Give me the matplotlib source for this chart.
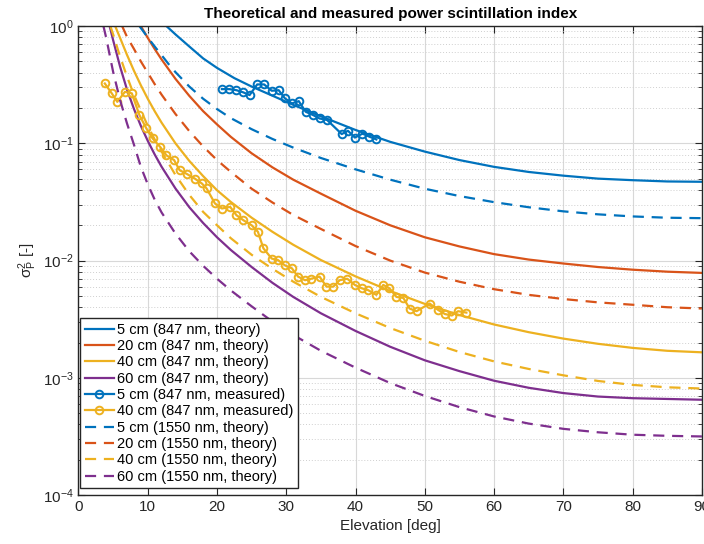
import numpy as np
import matplotlib.pyplot as plt
from matplotlib.ticker import LogLocator, MultipleLocator

plt.rcParams['font.family'] = ['Liberation Sans', 'DejaVu Sans']
plt.rcParams['mathtext.default'] = 'regular'

# theory curves (elevation [deg], sigma_P^2)
el_b847 = [12.7, 14, 16, 18, 20, 22.5, 25, 28, 31, 35, 40, 45, 50, 55, 60, 65, 70, 75, 80, 85, 90]
sp_b847 = [1.0, 0.85, 0.67, 0.53, 0.44, 0.36, 0.305, 0.255, 0.213, 0.170, 0.130, 0.103, 0.085, 0.072,
           0.063, 0.057, 0.053, 0.050, 0.0485, 0.0473, 0.047]

el_o847 = [9, 10, 11, 12, 14, 16, 18, 20, 22, 25, 28, 31, 35, 40, 45, 50, 55, 60, 65, 70, 75, 80, 85, 90]
sp_o847 = [1.0, 0.794, 0.638, 0.519, 0.355, 0.254, 0.188, 0.145, 0.1135, 0.0822, 0.0624, 0.049, 0.0372,
           0.0266, 0.020, 0.0158, 0.0132, 0.01135, 0.0102, 0.00944, 0.00881, 0.00836, 0.00804, 0.00785]

el_y847 = [5.3, 6, 7, 8, 9, 10, 11, 12, 14, 16, 18, 20, 22, 25, 28, 31, 35, 40, 45, 50, 55, 60, 65, 70, 75, 80, 85, 90]
sp_y847 = [1.0, 0.794, 0.569, 0.417, 0.313, 0.240, 0.188, 0.150, 0.100, 0.0708, 0.0525, 0.0398, 0.0316,
           0.0232, 0.0176, 0.01365, 0.0101, 0.00733, 0.0055, 0.00427, 0.00343, 0.00285, 0.00245, 0.00216,
           0.00195, 0.0018, 0.0017, 0.00165]

el_p847 = [4.5, 5, 6, 7, 8, 9, 10, 11, 12, 14, 16, 18, 20, 22, 25, 28, 31, 35, 40, 45, 50, 55, 60, 65, 70, 75, 80, 85, 90]
sp_p847 = [1.0, 0.759, 0.452, 0.288, 0.197, 0.141, 0.105, 0.0804, 0.0631, 0.0412, 0.0285, 0.0209, 0.0158,
           0.0123, 0.00881, 0.00646, 0.0049, 0.00355, 0.00251, 0.00184, 0.00141, 0.00114, 0.000944,
           0.000822, 0.000741, 0.000692, 0.00067, 0.00066, 0.00065]

el_b1550 = [8.8, 10, 11, 12, 13, 14, 16, 18, 20, 22, 25, 28, 31, 35, 40, 45, 50, 55, 60, 65, 70, 75, 80, 85, 90]
sp_b1550 = [1.0, 0.80, 0.67, 0.565, 0.475, 0.405, 0.305, 0.24, 0.196, 0.164, 0.132, 0.109, 0.092, 0.075,
            0.060, 0.049, 0.041, 0.0355, 0.0315, 0.0285, 0.0263, 0.0248, 0.0238, 0.0232, 0.023]

el_o1550 = [6.3, 7, 8, 9, 10, 11, 12, 14, 16, 18, 20, 22, 25, 28, 31, 35, 40, 45, 50, 55, 60, 65, 70, 75, 80, 85, 90]
sp_o1550 = [1.0, 0.81, 0.64, 0.50, 0.40, 0.32, 0.26, 0.178, 0.127, 0.094, 0.072, 0.057, 0.041, 0.0313,
            0.0245, 0.0186, 0.0133, 0.0100, 0.0079, 0.0066, 0.0057, 0.0051, 0.0047, 0.0044, 0.0042, 0.0040, 0.0039]

el_y1550 = [4.6, 5, 6, 7, 8, 9, 10, 11, 12, 14, 16, 18, 20, 22, 25, 28, 31, 35, 40, 45, 50, 55, 60, 65, 70, 75, 80, 85, 90]
sp_y1550 = [1.0, 0.851, 0.550, 0.372, 0.260, 0.191, 0.141, 0.108, 0.0851, 0.0537, 0.0363, 0.0260, 0.0200,
            0.0155, 0.0112, 0.00851, 0.00661, 0.0049, 0.00355, 0.00266, 0.00207, 0.00166, 0.00138,
            0.00119, 0.00105, 0.00094, 0.00087, 0.00083, 0.00081]

el_p1550 = [3.6, 4, 5, 6, 7, 8, 9, 10, 11, 12, 14, 16, 18, 20, 22, 25, 28, 31, 35, 40, 45, 50, 55, 60, 65, 70, 75, 80, 85, 90]
sp_p1550 = [1.0, 0.794, 0.407, 0.234, 0.148, 0.0977, 0.0631, 0.0447, 0.0331, 0.0257, 0.0170, 0.0120,
            0.00902, 0.0070, 0.00556, 0.00407, 0.00302, 0.00232, 0.0017, 0.00122, 0.000902, 0.0007,
            0.000562, 0.000468, 0.000407, 0.000367, 0.000343, 0.000327, 0.00032, 0.000316]

# measured
el_m5 = [20.7, 21.8, 22.8, 23.8, 24.7, 25.8, 26.8, 27.9, 28.9, 29.8, 30.8, 31.8, 32.8, 33.9, 34.8, 35.9,
         38.0, 38.9, 39.9, 41.0, 42.0, 43.0]
sp_m5 = [0.290, 0.290, 0.284, 0.272, 0.258, 0.318, 0.318, 0.281, 0.284, 0.242, 0.219, 0.229, 0.186, 0.174,
         0.163, 0.158, 0.120, 0.128, 0.112, 0.121, 0.114, 0.108]

el_m40 = [3.8, 4.8, 5.6, 6.7, 7.7, 8.8, 9.8, 10.7, 11.8, 12.7, 13.8, 14.6, 15.6, 16.8, 17.8, 18.5, 19.7, 20.7,
          21.9, 22.8, 23.8, 25.0, 25.9, 26.7, 27.9, 28.8, 29.8, 30.8, 31.7, 32.7, 33.6, 34.8, 35.8, 36.8,
          37.7, 38.8, 39.9, 40.9, 41.8, 43.0, 44.0, 44.9, 45.9, 46.9, 47.8, 48.8, 50.7, 51.9, 52.9, 53.9, 54.8, 56.0]
sp_m40 = [0.324, 0.267, 0.226, 0.275, 0.267, 0.174, 0.134, 0.110, 0.093, 0.079, 0.072, 0.059, 0.055, 0.050,
          0.0455, 0.0412, 0.0307, 0.0278, 0.0287, 0.0244, 0.0221, 0.020, 0.0176, 0.0127, 0.0104, 0.0101,
          0.0091, 0.0086, 0.0073, 0.0068, 0.0070, 0.0073, 0.0060, 0.0060, 0.0068, 0.0070, 0.0062, 0.0058,
          0.0056, 0.0051, 0.0062, 0.0058, 0.0049, 0.0048, 0.0039, 0.0037, 0.0043, 0.0038, 0.0035, 0.0034,
          0.0037, 0.0036]

c_blue = '#0072BD'
c_orange = '#D95319'
c_yellow = '#EDB120'
c_purple = '#7E2F8E'

fig = plt.figure(figsize=(7.04, 5.44), dpi=100)
ax = fig.add_axes([0.1115, 0.090, 0.8855, 0.862])

lw = 1.6
ax.plot(el_b847, sp_b847, color=c_blue, lw=lw, label='5 cm (847 nm, theory)')
ax.plot(el_o847, sp_o847, color=c_orange, lw=lw, label='20 cm (847 nm, theory)')
ax.plot(el_y847, sp_y847, color=c_yellow, lw=lw, label='40 cm (847 nm, theory)')
ax.plot(el_p847, sp_p847, color=c_purple, lw=lw, label='60 cm (847 nm, theory)')
ax.plot(el_m5, sp_m5, color=c_blue, lw=lw, marker='o', ms=5.5, mfc='none', mew=1.4,
        label='5 cm (847 nm, measured)')
ax.plot(el_m40, sp_m40, color=c_yellow, lw=lw, marker='o', ms=5.5, mfc='none', mew=1.4,
        label='40 cm (847 nm, measured)')
dash = (0, (5, 3.5))
ax.plot(el_b1550, sp_b1550, color=c_blue, lw=lw, ls=dash, label='5 cm (1550 nm, theory)')
ax.plot(el_o1550, sp_o1550, color=c_orange, lw=lw, ls=dash, label='20 cm (1550 nm, theory)')
ax.plot(el_y1550, sp_y1550, color=c_yellow, lw=lw, ls=dash, label='40 cm (1550 nm, theory)')
ax.plot(el_p1550, sp_p1550, color=c_purple, lw=lw, ls=dash, label='60 cm (1550 nm, theory)')

ax.set_yscale('log')
ax.set_xlim(0, 90)
ax.set_ylim(1e-4, 1)
ax.xaxis.set_major_locator(MultipleLocator(10))
ax.yaxis.set_major_locator(LogLocator(base=10, numticks=10))
ax.yaxis.set_minor_locator(LogLocator(base=10, subs=np.arange(2, 10), numticks=10))

ax.grid(True, which='major', color='#d8d8d8', lw=0.8)
ax.grid(True, which='minor', axis='y', color='#cfcfcf', lw=0.7, ls=(0, (1, 2)))
ax.set_axisbelow(True)

ax.tick_params(which='both', direction='in', top=True, right=True, colors='#262626', labelsize=11)
ax.tick_params(which='major', length=5)
ax.tick_params(which='minor', length=3)
for s in ax.spines.values():
    s.set_color('#262626')
    s.set_linewidth(1.0)

ax.set_title('Theoretical and measured power scintillation index', fontsize=11, fontweight='bold', pad=6)
ax.set_xlabel('Elevation [deg]', fontsize=11, color='#262626')
ax.set_ylabel(r'$\sigma_P^2$ [-]', fontsize=11, color='#262626', labelpad=3)

leg = ax.legend(loc='lower left', bbox_to_anchor=(0.003, 0.015), borderaxespad=0, fontsize=10.5,
                fancybox=False, framealpha=1, edgecolor='#262626', handlelength=2.0,
                handletextpad=0.2, labelspacing=0.16, borderpad=0.3)
leg.get_frame().set_linewidth(1.0)

fig.savefig('out.png', dpi=100)
